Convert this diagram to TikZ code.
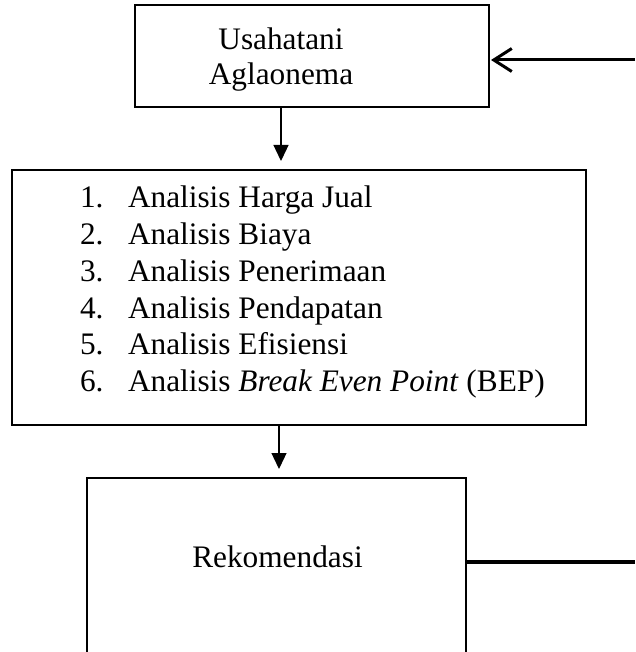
\documentclass[tikz,border=0pt]{standalone}
\usepackage{fontspec}
\setmainfont{Liberation Serif}
\usetikzlibrary{arrows.meta}
\begin{document}
\begin{tikzpicture}[x=1pt,y=-1pt,
  box/.style={draw=black,line width=2pt,rectangle,inner sep=0pt,outer sep=0pt},
  txt/.style={inner sep=0pt,outer sep=0pt,font=\fontsize{31.3}{36}\selectfont},
  downarr/.style={line width=1.3pt,-{Triangle[length=16pt,width=15pt]}},
  fbarrow/.style={line width=3pt,-{Straight Barb[length=18pt,width=23pt]}},
  fbline/.style={line width=3.2pt}]
\useasboundingbox (0,0) rectangle (635,652);
% boxes
\node[box,minimum width=354pt,minimum height=102pt] (top) at (312,56) {};
\node[box,minimum width=574pt,minimum height=255pt] (mid) at (299,297.5) {};
\node[box,minimum width=379pt,minimum height=175pt] (bot) at (276.5,565.5) {};
% top box text
\node[txt,anchor=base] (u1) at (281,50) {Usahatani};
\node[txt,anchor=base] (u2) at (281,85) {Aglaonema};
% list
\node[txt,anchor=base west] (n1) at (80,207.7) {1.};
\node[txt,anchor=base west] (l1) at (128,207.7) {Analisis Harga Jual};
\node[txt,anchor=base west] (n2) at (80,244.5) {2.};
\node[txt,anchor=base west] (l2) at (128,244.5) {Analisis Biaya};
\node[txt,anchor=base west] (n3) at (80,281.3) {3.};
\node[txt,anchor=base west] (l3) at (128,281.3) {Analisis Penerimaan};
\node[txt,anchor=base west] (n4) at (80,318) {4.};
\node[txt,anchor=base west] (l4) at (128,318) {Analisis Pendapatan};
\node[txt,anchor=base west] (n5) at (80,354.8) {5.};
\node[txt,anchor=base west] (l5) at (128,354.8) {Analisis Efisiensi};
\node[txt,anchor=base west] (n6) at (80,391.6) {6.};
\node[txt,anchor=base west] (l6) at (128,391.6) {Analisis \textit{Break Even Point} (BEP)};
% bottom text
\node[txt,anchor=base] (rk) at (277.5,567) {Rekomendasi};
% connectors
\coordinate (a1) at (281,0);
\coordinate (a2) at (279,0);
\draw[downarr,shorten >=9pt] (top.south -| a1) -- (mid.north -| a1);
\draw[downarr,shorten >=9pt] (mid.south -| a2) -- (bot.north -| a2);
\coordinate (r1) at (635,60);
\coordinate (r2) at (635,562);
\draw[fbarrow,shorten >=2pt] (r1) -- (top.east |- r1);
\draw[fbline] (bot.east |- r2) -- (r2);
\end{tikzpicture}
\end{document}
